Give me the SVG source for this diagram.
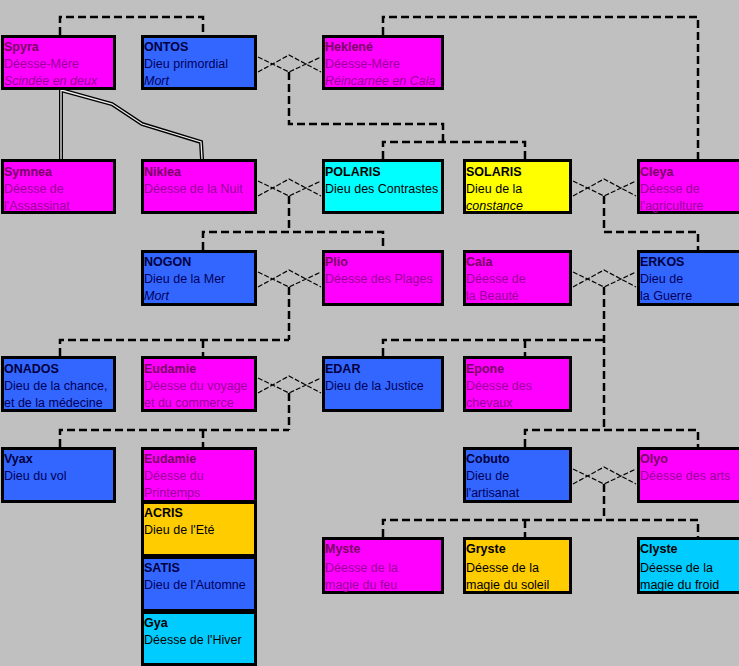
<svg xmlns="http://www.w3.org/2000/svg" width="739" height="666" viewBox="0 0 739 666">
<style>
.b{stroke:#000;stroke-width:3}
.m{fill:#FF00FF}.bl{fill:#3366FF}.cy{fill:#00FFFF}.ye{fill:#FFFF00}.or{fill:#FFCC00}.lc{fill:#00CCFF}
text{font-family:"Liberation Sans",Arial,sans-serif;font-size:12.5px}
.t{font-weight:bold}
.pm{fill:#990099}.pmt{fill:#7A0066}
.pb{fill:#00005A}.pbt{fill:#000040}
.pk{fill:#000}
.i{font-style:italic}
.d{fill:none;stroke:#000;stroke-width:2.5;stroke-dasharray:8,4}
.mar{fill:none;stroke:#000;stroke-width:1.2;stroke-dasharray:5,2}
</style>
<rect width="739" height="666" fill="#C0C0C0"/>
<g id="connectors">
<path class="d" d="M60,35V17H203V35"/>
<path class="d" d="M383,35V17H698V159"/>
<path class="d" d="M289,72V124H443V142M383,159V142H525V159"/>
<path class="d" d="M289,196V232M203,250V232H383V250"/>
<path class="d" d="M604,196V232H698V250"/>
<path class="d" d="M289,287V340M60,356V340H289M203,340V356"/>
<path class="d" d="M604,287V430M383,356V340H604M525,340V356M525,447V430H698V447"/>
<path class="d" d="M289,393V430M60,447V430H289M203,430V447"/>
<path class="d" d="M604,484V520M383,537V520H698V537M525,520V537"/>
<g class="mar">
<path d="M258,57L289,72L321,57M258,72L289,55L321,72"/>
<path d="M258,181L289,196L321,181M258,196L289,179L321,196"/>
<path d="M573,181L604,196L636,181M573,196L604,179L636,196"/>
<path d="M258,272L289,287L321,272M258,287L289,270L321,287"/>
<path d="M573,272L604,287L636,272M573,287L604,270L636,287"/>
<path d="M258,378L289,393L321,378M258,393L289,376L321,393"/>
<path d="M573,469L604,484L636,469M573,484L604,467L636,484"/>
</g>
<g fill="none">
<path d="M61,90V159M61,90L112,104L142,124L201,142L202,159" stroke="#000" stroke-width="4"/>
<path d="M61,90V159M61,90L112,104L142,124L201,142L202,159" stroke="#F0F0F0" stroke-width="1.3"/>
</g>
</g>
<g id="spyra"><rect class="b m" x="2.5" y="36.5" width="112" height="52"/><text x="4" y="51" class="t pmt">Spyra</text><text x="4" y="68" class="pm">Déesse-Mère</text><text x="4" y="85" class="pm i">Scindée en deux</text></g>
<g id="ontos"><rect class="b bl" x="142.5" y="36.5" width="113" height="52"/><text x="144" y="51" class="t pbt">ONTOS</text><text x="144" y="68" class="pb">Dieu primordial</text><text x="144" y="85" class="pb i">Mort</text></g>
<g id="heklene"><rect class="b m" x="323.5" y="36.5" width="119" height="52"/><text x="325" y="51" class="t pmt">Heklené</text><text x="325" y="68" class="pm">Déesse-Mère</text><text x="325" y="85" class="pm i">Réincarnée en Cala</text></g>
<g id="symnea"><rect class="b m" x="2.5" y="160.5" width="112" height="52"/><text x="4" y="176" class="t pmt">Symnea</text><text x="4" y="193" class="pm">Déesse de</text><text x="4" y="210" class="pm">l'Assassinat</text></g>
<g id="niklea"><rect class="b m" x="142.5" y="160.5" width="113" height="52"/><text x="144" y="176" class="t pmt">Niklea</text><text x="144" y="193" class="pm">Déesse de la Nuit</text></g>
<g id="polaris"><rect class="b cy" x="323.5" y="160.5" width="119" height="52"/><text x="325" y="176" class="t pk">POLARIS</text><text x="325" y="193" class="pk">Dieu des Contrastes</text></g>
<g id="solaris"><rect class="b ye" x="464.5" y="160.5" width="106" height="52"/><text x="466" y="176" class="t pk">SOLARIS</text><text x="466" y="193" class="pk">Dieu de la</text><text x="466" y="210" class="pk i">constance</text></g>
<g id="cleya"><rect class="b m" x="638.5" y="160.5" width="104" height="52"/><text x="640" y="176" class="t pmt">Cleya</text><text x="640" y="193" class="pm">Déesse de</text><text x="640" y="210" class="pm">l'agriculture</text></g>
<g id="nogon"><rect class="b bl" x="142.5" y="251.5" width="113" height="53"/><text x="144" y="266" class="t pbt">NOGON</text><text x="144" y="283" class="pb">Dieu de la Mer</text><text x="144" y="300" class="pb i">Mort</text></g>
<g id="plio"><rect class="b m" x="323.5" y="251.5" width="119" height="53"/><text x="325" y="266" class="t pmt">Plio</text><text x="325" y="283" class="pm">Déesse des Plages</text></g>
<g id="cala"><rect class="b m" x="464.5" y="251.5" width="106" height="53"/><text x="466" y="266" class="t pmt">Cala</text><text x="466" y="283" class="pm">Déesse de</text><text x="466" y="300" class="pm">la Beauté</text></g>
<g id="erkos"><rect class="b bl" x="638.5" y="251.5" width="104" height="53"/><text x="640" y="266" class="t pbt">ERKOS</text><text x="640" y="283" class="pb">Dieu de</text><text x="640" y="300" class="pb">la Guerre</text></g>
<g id="onados"><rect class="b bl" x="2.5" y="357.5" width="112" height="53"/><text x="4" y="373" class="t pbt">ONADOS</text><text x="4" y="390" class="pb">Dieu de la chance,</text><text x="4" y="407" class="pb">et de la médecine</text></g>
<g id="eudamie1"><rect class="b m" x="142.5" y="357.5" width="113" height="53"/><text x="144" y="373" class="t pmt">Eudamie</text><text x="144" y="390" class="pm">Déesse du voyage</text><text x="144" y="407" class="pm">et du commerce</text></g>
<g id="edar"><rect class="b bl" x="323.5" y="357.5" width="119" height="53"/><text x="325" y="373" class="t pbt">EDAR</text><text x="325" y="390" class="pb">Dieu de la Justice</text></g>
<g id="epone"><rect class="b m" x="464.5" y="357.5" width="106" height="53"/><text x="466" y="373" class="t pmt">Epone</text><text x="466" y="390" class="pm">Déesse des</text><text x="466" y="407" class="pm">chevaux</text></g>
<g id="vyax"><rect class="b bl" x="2.5" y="448.5" width="112" height="53"/><text x="4" y="463" class="t pbt">Vyax</text><text x="4" y="480" class="pb">Dieu du vol</text></g>
<g id="eudamie2"><rect class="b m" x="142.5" y="448.5" width="113" height="53"/><text x="144" y="463" class="t pmt">Eudamie</text><text x="144" y="480" class="pm">Déesse du</text><text x="144" y="497" class="pm">Printemps</text></g>
<g id="acris"><rect class="b or" x="142.5" y="502.5" width="113" height="53"/><text x="144" y="517" class="t pk">ACRIS</text><text x="144" y="534" class="pk">Dieu de l'Eté</text></g>
<g id="satis"><rect class="b bl" x="142.5" y="557.5" width="113" height="53"/><text x="144" y="572" class="t pbt">SATIS</text><text x="144" y="589" class="pb">Dieu de l'Automne</text></g>
<g id="gya"><rect class="b lc" x="142.5" y="612.5" width="113" height="52"/><text x="144" y="627" class="t pk">Gya</text><text x="144" y="644" class="pk">Déesse de l'Hiver</text></g>
<g id="cobuto"><rect class="b bl" x="464.5" y="448.5" width="106" height="53"/><text x="466" y="463" class="t pbt">Cobuto</text><text x="466" y="480" class="pb">Dieu de</text><text x="466" y="497" class="pb">l'artisanat</text></g>
<g id="olyo"><rect class="b m" x="638.5" y="448.5" width="104" height="53"/><text x="640" y="463" class="t pmt">Olyo</text><text x="640" y="480" class="pm">Déesse des arts</text></g>
<g id="myste"><rect class="b m" x="323.5" y="538.5" width="119" height="54"/><text x="325" y="553" class="t pmt">Myste</text><text x="325" y="572" class="pm">Déesse de la</text><text x="325" y="589" class="pm">magie du feu</text></g>
<g id="gryste"><rect class="b or" x="464.5" y="538.5" width="106" height="54"/><text x="466" y="553" class="t pk">Gryste</text><text x="466" y="572" class="pk">Déesse de la</text><text x="466" y="589" class="pk">magie du soleil</text></g>
<g id="clyste"><rect class="b lc" x="638.5" y="538.5" width="104" height="54"/><text x="640" y="553" class="t pk">Clyste</text><text x="640" y="572" class="pk">Déesse de la</text><text x="640" y="589" class="pk">magie du froid</text></g>
</svg>
